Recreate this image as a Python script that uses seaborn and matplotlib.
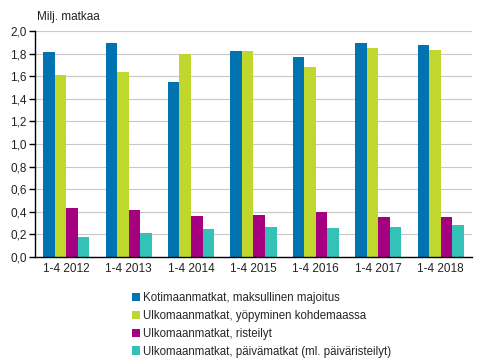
import matplotlib
matplotlib.use("Agg")
import matplotlib.pyplot as plt
import numpy as np
import pandas as pd
import seaborn as sns

periods = ["1-4 2012", "1-4 2013", "1-4 2014", "1-4 2015", "1-4 2016", "1-4 2017", "1-4 2018"]
series = ["Kotimaanmatkat, maksullinen majoitus",
          "Ulkomaanmatkat, yöpyminen kohdemaassa",
          "Ulkomaanmatkat, risteilyt",
          "Ulkomaanmatkat, päivämatkat (ml. päiväristeilyt)"]
kotimaa = [1.81, 1.89, 1.55, 1.82, 1.77, 1.89, 1.88]
yopyminen = [1.61, 1.64, 1.80, 1.82, 1.68, 1.85, 1.83]
risteilyt = [0.43, 0.42, 0.36, 0.37, 0.40, 0.35, 0.35]
paivamatkat = [0.18, 0.21, 0.25, 0.27, 0.26, 0.27, 0.28]
colors = ["#0073B0", "#C0D82E", "#A5007F", "#34C1B8"]

df = pd.DataFrame({"period": periods * 4,
                   "series": np.repeat(series, len(periods)),
                   "value": kotimaa + yopyminen + risteilyt + paivamatkat})

sns.set_theme(style="white")
plt.rcParams["font.family"] = ["Liberation Sans", "DejaVu Sans"]

fig = plt.figure(figsize=(4.91, 3.59), dpi=100)
ax = fig.add_axes([0.0713, 0.284, 0.8897, 0.6296])
sns.barplot(data=df, x="period", y="value", hue="series", palette=colors,
            width=0.74, gap=0, saturation=1, linewidth=0, edgecolor="none", ax=ax)

ax.set_ylim(0, 2.0)
ax.set_xlim(-0.5, len(periods) - 0.5)
yt = np.arange(0, 2.01, 0.2)
ax.set_yticks(yt)
ax.set_yticklabels([f"{v:.1f}".replace(".", ",") for v in yt], fontsize=8.5, color="#222222")
ax.yaxis.grid(True, color="#c8c8c8", linewidth=0.8)
ax.set_axisbelow(True)
ax.tick_params(axis="x", which="major", length=0, labelsize=8.5, labelcolor="#222222", pad=4)
ax.set_xticks(np.arange(-0.5, len(periods)), minor=True)
ax.tick_params(axis="x", which="minor", length=5, width=1, color="black", direction="out")
ax.tick_params(axis="y", length=4, width=1, color="black", direction="out", left=True, pad=2)
ax.set_xlabel("")
ax.set_ylabel("")
for s in ["top", "right"]:
    ax.spines[s].set_visible(False)
for s in ["left", "bottom"]:
    ax.spines[s].set_color("black")
    ax.spines[s].set_linewidth(1)

fig.text(0.075, 0.952, "Milj. matkaa", fontsize=8.5, color="#222222", va="center")

handles, labels = ax.get_legend_handles_labels()
ax.legend_.remove()
fig.legend(handles, labels, loc="upper left", bbox_to_anchor=(0.268, 0.186),
           frameon=False, fontsize=8.3, handlelength=0.75, handleheight=0.75,
           handletextpad=0.2, labelspacing=0.5, borderaxespad=0, borderpad=0)

fig.savefig("out.png", dpi=100)
